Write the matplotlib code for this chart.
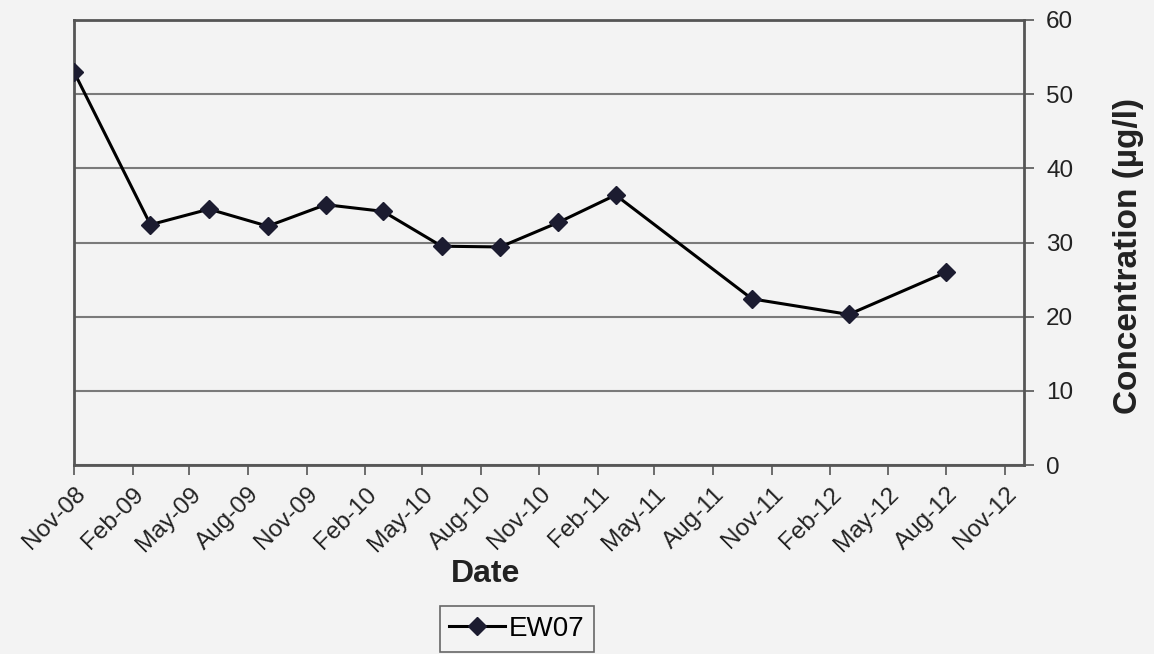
import matplotlib
matplotlib.use("Agg")
import matplotlib.pyplot as plt
import matplotlib.dates as mdates
from datetime import datetime

plt.rcParams['font.family'] = ['Liberation Sans', 'DejaVu Sans']

# Data
dates = ["2008-11-01", "2009-03-01", "2009-06-01", "2009-09-01", "2009-12-01",
         "2010-03-01", "2010-06-01", "2010-09-01", "2010-12-01", "2011-03-01",
         "2011-10-01", "2012-03-01", "2012-08-01"]
values = [53.0, 32.4, 34.5, 32.2, 35.1, 34.2, 29.5, 29.4, 32.7, 36.4, 22.4, 20.3, 26.0]
series_name = "EW07"
x_label = "Date"
y_label = "Concentration (µg/l)"
y_ticks = [0, 10, 20, 30, 40, 50, 60]

x = [datetime.strptime(d, "%Y-%m-%d") for d in dates]

bg = '#f3f3f3'
fig = plt.figure(figsize=(11.54, 6.54), dpi=100, facecolor=bg)
ax = fig.add_axes([74/1154, 1-465/654, (1024-74)/1154, (465-20)/654], facecolor=bg)

ax.plot(x, values, color='black', lw=2.2, marker='D', markersize=9,
        markerfacecolor='#1c1c30', markeredgecolor='#1c1c30', label=series_name, zorder=3)

ax.set_xlim(datetime(2008, 11, 1), datetime(2012, 12, 1))
ax.set_ylim(0, 60)
ax.set_yticks(y_ticks)
ax.yaxis.tick_right()
ax.yaxis.set_label_position('right')
ax.grid(axis='y', color='#7a7a7a', lw=1.5)
ax.set_axisbelow(True)

ax.xaxis.set_major_locator(mdates.MonthLocator(bymonth=[2, 5, 8, 11]))
ax.xaxis.set_major_formatter(mdates.DateFormatter('%b-%y'))
for lab in ax.get_xticklabels():
    lab.set_rotation(45)
    lab.set_ha('right')
    lab.set_rotation_mode('anchor')

ax.tick_params(axis='x', direction='out', length=7, width=1.2, color='#555555',
               labelsize=17.5, pad=6, labelcolor='#222222')
ax.tick_params(axis='y', direction='out', length=7, width=1.2, color='#555555',
               labelsize=17.5, pad=9, labelcolor='#222222', right=True, left=False)
for s in ax.spines.values():
    s.set_color('#555555')
    s.set_linewidth(2)

fig.text(486/1154, 1-574/654, x_label, fontsize=23, fontweight='bold',
         ha='center', va='center', color='#222222')
fig.text(1128/1154, 1-256/654, y_label, fontsize=24, fontweight='bold',
         rotation=90, ha='center', va='center', color='#222222')

leg = fig.legend(loc='center', bbox_to_anchor=(517/1154, 1-629/654), fontsize=20,
                 frameon=True, fancybox=False, edgecolor='#444444', facecolor=bg,
                 handlelength=2.0, handletextpad=0.15, borderpad=0.35)
leg.get_frame().set_linewidth(1.2)

fig.savefig('out.png', dpi=100, facecolor=bg)
